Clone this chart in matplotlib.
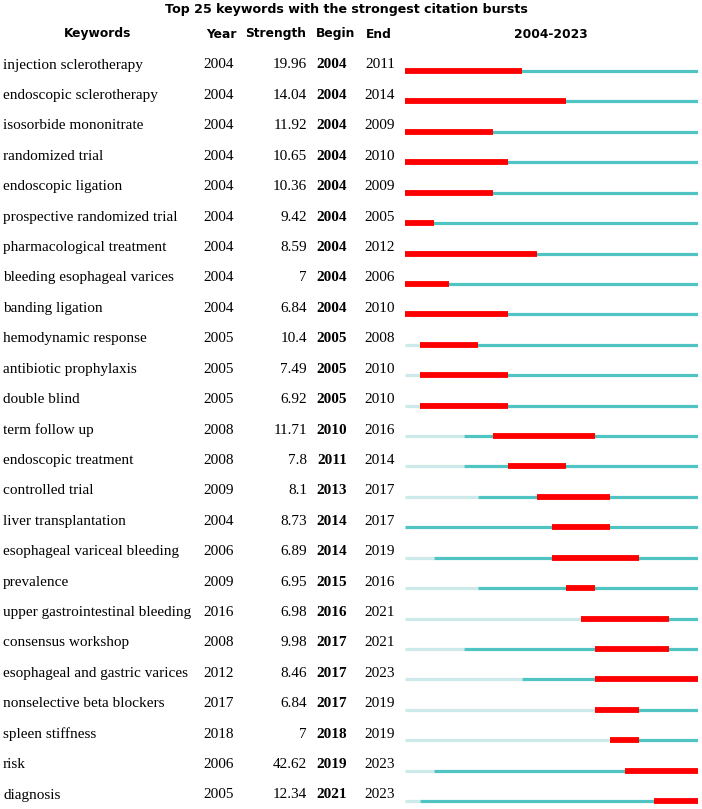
import matplotlib
matplotlib.use("Agg")
import matplotlib.pyplot as plt

keywords = [
    "injection sclerotherapy", "endoscopic sclerotherapy", "isosorbide mononitrate",
    "randomized trial", "endoscopic ligation", "prospective randomized trial",
    "pharmacological treatment", "bleeding esophageal varices", "banding ligation",
    "hemodynamic response", "antibiotic prophylaxis", "double blind",
    "term follow up", "endoscopic treatment", "controlled trial",
    "liver transplantation", "esophageal variceal bleeding", "prevalence",
    "upper gastrointestinal bleeding", "consensus workshop",
    "esophageal and gastric varices", "nonselective beta blockers",
    "spleen stiffness", "risk", "diagnosis",
]
years = [2004, 2004, 2004, 2004, 2004, 2004, 2004, 2004, 2004, 2005, 2005, 2005,
         2008, 2008, 2009, 2004, 2006, 2009, 2016, 2008, 2012, 2017, 2018, 2006, 2005]
strengths = ["19.96", "14.04", "11.92", "10.65", "10.36", "9.42", "8.59", "7", "6.84",
             "10.4", "7.49", "6.92", "11.71", "7.8", "8.1", "8.73", "6.89", "6.95",
             "6.98", "9.98", "8.46", "6.84", "7", "42.62", "12.34"]
begins = [2004, 2004, 2004, 2004, 2004, 2004, 2004, 2004, 2004, 2005, 2005, 2005,
          2010, 2011, 2013, 2014, 2014, 2015, 2016, 2017, 2017, 2017, 2018, 2019, 2021]
ends = [2011, 2014, 2009, 2010, 2009, 2005, 2012, 2006, 2010, 2008, 2010, 2010,
        2016, 2014, 2017, 2017, 2019, 2016, 2021, 2021, 2023, 2019, 2019, 2023, 2023]
first_year, last_year = 2004, 2023

RED = "#ff0000"
TEAL = "#50c3c3"
LIGHT = "#cde9ea"
SERIF = "Liberation Serif"
SANS = "DejaVu Sans"

W, H = 702, 809
row_top, row_step = 65, (795 - 65) / 24
ylim = ((H - row_top) / row_step, -row_top / row_step)

fig = plt.figure(figsize=(W / 100, H / 100), dpi=100)
ax = fig.add_axes([0, 0, 1, 1])
ax.set_xlim(0, W)
ax.set_ylim(*ylim)
ax.axis("off")

hdr_y = (34 - row_top) / row_step
title_y = (9 - row_top) / row_step
ax.text(346, title_y, "Top 25 keywords with the strongest citation bursts",
        ha="center", va="center", fontsize=9.1, fontweight="bold", family=SANS)
for x, lab in [(98, "Keywords"), (221, "Year"), (276, "Strength"),
               (336, "Begin"), (379, "End"), (551, "2004-2023")]:
    ax.text(x, hdr_y, lab, ha="center", va="center", fontsize=8.8,
            fontweight="bold", family=SANS)

fs = 11
for i, kw in enumerate(keywords):
    ax.text(3, i, kw, ha="left", va="center", fontsize=fs, family=SERIF)
    ax.text(219, i, str(years[i]), ha="center", va="center", fontsize=fs, family=SERIF)
    ax.text(307, i, strengths[i], ha="right", va="center", fontsize=fs, family=SERIF)
    ax.text(332, i, str(begins[i]), ha="center", va="center", fontsize=fs,
            family=SERIF, fontweight="bold")
    ax.text(380, i, str(ends[i]), ha="center", va="center", fontsize=fs, family=SERIF)

# timeline bars, one unit per year
bx = fig.add_axes([405 / W, 0, (698 - 405) / W, 1])
bx.set_xlim(first_year, last_year + 1)
bx.set_ylim(*ylim)
bx.axis("off")
off = 6 / row_step
for i in range(len(keywords)):
    y = i + off
    if years[i] > first_year:
        bx.hlines(y, first_year, years[i], color=LIGHT, lw=2.3)
    bx.hlines(y, years[i], last_year + 1, color=TEAL, lw=2.3)
    bx.hlines(y, begins[i], ends[i] + 1, color=RED, lw=4.2)

fig.savefig("out.png", dpi=100)
